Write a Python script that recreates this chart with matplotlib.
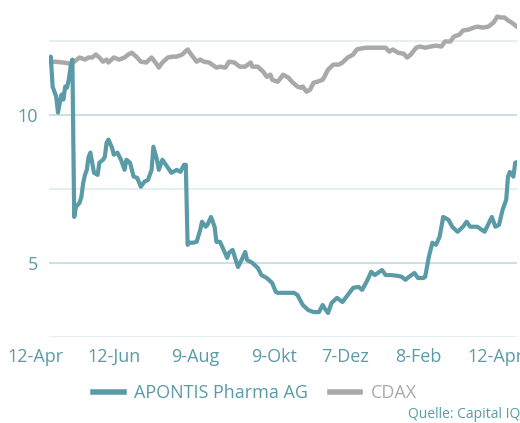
import matplotlib
matplotlib.use("Agg")
import matplotlib.pyplot as plt
import matplotlib.transforms as mtransforms

# trading-day index (0 = 12-Apr) and closing values
apontis_day = [0, 1, 2, 4, 5, 6, 7, 8, 9, 10, 11, 12, 13, 14, 15, 17, 18, 19, 20, 21,
               22, 23, 24, 25, 27, 28, 30, 31, 32, 33, 35, 36, 38, 40, 42, 43, 45, 46, 47, 49,
               51, 53, 55, 57, 58, 60, 61, 63, 68, 71, 73, 75, 76, 77, 78, 80, 82, 84, 85, 87,
               88, 90, 92, 93, 95, 97, 99, 100, 102, 105, 107, 109, 110, 113, 116, 118, 121, 124, 126, 127,
               128, 132, 136, 138, 141, 144, 147, 150, 152, 153, 155, 157, 160, 163, 166, 169, 172, 174, 177, 179,
               181, 185, 187, 190, 194, 196, 198, 200, 203, 205, 208, 209, 211, 213, 215, 217, 219, 222, 224, 227,
               230, 232, 234, 238, 242, 246, 248, 250, 252, 254, 255, 256, 258, 259, 260]
apontis_val = [11.86, 11.96, 10.95, 10.61, 10.07, 10.41, 10.68, 10.51, 10.95, 10.91, 11.18, 11.62, 11.86, 6.55, 6.89, 7.03, 7.23, 7.70, 7.97, 8.14,
               8.58, 8.72, 8.38, 8.04, 7.97, 8.38, 8.48, 8.58, 9.05, 9.16, 8.89, 8.65, 8.72, 8.48, 8.14, 8.48, 8.38, 8.14, 7.91, 7.87,
               7.57, 7.74, 7.80, 8.14, 8.92, 8.48, 8.14, 8.48, 8.04, 8.14, 8.07, 8.31, 8.31, 5.61, 5.68, 5.68, 5.71, 6.11, 6.39, 6.22,
               6.28, 6.55, 6.22, 5.71, 5.71, 5.44, 5.17, 5.34, 5.44, 4.86, 5.10, 5.37, 5.10, 5.00, 4.83, 4.59, 4.49, 4.32, 4.02, 3.99,
               3.99, 3.99, 3.99, 3.92, 3.58, 3.41, 3.34, 3.34, 3.58, 3.48, 3.31, 3.65, 3.82, 3.68, 3.92, 4.16, 4.19, 4.09, 4.43, 4.70,
               4.59, 4.76, 4.59, 4.59, 4.56, 4.53, 4.43, 4.53, 4.66, 4.49, 4.49, 4.53, 5.20, 5.68, 5.61, 5.88, 6.55, 6.45, 6.22, 6.05,
               6.22, 6.39, 6.22, 6.22, 6.05, 6.55, 6.22, 6.28, 6.79, 7.13, 7.91, 8.07, 7.91, 8.38, 8.40]

cdax_day = [0, 3, 8, 12, 14, 17, 20, 22, 24, 26, 28, 30, 32, 33, 36, 39, 42, 44, 46, 49,
            51, 54, 57, 60, 61, 63, 66, 69, 71, 74, 77, 79, 82, 84, 86, 89, 93, 95, 98, 100,
            103, 106, 109, 112, 113, 116, 119, 121, 123, 124, 127, 128, 130, 133, 135, 138, 140, 141, 143, 145,
            147, 149, 152, 153, 155, 158, 161, 163, 166, 169, 171, 173, 176, 179, 181, 184, 187, 189, 191, 194,
            197, 199, 201, 204, 206, 209, 212, 215, 218, 220, 223, 225, 228, 230, 233, 236, 238, 241, 244, 247,
            249, 251, 253, 255, 257, 260]
cdax_val = [11.76, 11.79, 11.76, 11.72, 11.79, 11.93, 11.86, 11.93, 11.93, 12.03, 11.93, 11.79, 11.86, 11.76, 11.93, 11.86, 11.93, 12.03, 12.09, 11.93,
            11.79, 11.76, 11.93, 11.69, 11.59, 11.76, 11.93, 11.96, 11.96, 12.03, 12.20, 12.03, 11.79, 11.86, 11.79, 11.76, 11.59, 11.62, 11.59, 11.79,
            11.76, 11.62, 11.62, 11.76, 11.62, 11.62, 11.45, 11.28, 11.35, 11.18, 11.11, 11.18, 11.35, 11.25, 11.11, 10.95, 10.91, 10.95, 10.78, 10.84,
            11.08, 11.11, 11.18, 11.28, 11.52, 11.69, 11.69, 11.76, 11.93, 12.03, 12.20, 12.23, 12.26, 12.26, 12.26, 12.26, 12.26, 12.13, 12.20, 12.09,
            12.06, 11.93, 12.03, 12.26, 12.30, 12.26, 12.30, 12.33, 12.30, 12.47, 12.47, 12.64, 12.70, 12.84, 12.87, 12.94, 12.97, 12.94, 12.97, 13.11,
            13.31, 13.28, 13.28, 13.18, 13.11, 12.97]

tick_days = [0, 44, 89, 133, 172, 213, 256]
tick_labels = ['12-Apr', '12-Jun', '9-Aug', '9-Okt', '7-Dez', '8-Feb', '12-Apr']
y_ticks = [2.5, 5, 7.5, 10, 12.5]
y_labels = ['', '5', '', '10', '']

teal = '#5a9ba7'
grey = '#a9a9a9'
plt.rcParams['font.family'] = ['Open Sans', 'DejaVu Sans']

fig = plt.figure(figsize=(5.2, 4.23), dpi=100)
ax = fig.add_axes([49 / 520, 1 - 337 / 423, 468 / 520, 329 / 423])

ax.plot(cdax_day, cdax_val, color=grey, lw=3.2, label='CDAX', solid_joinstyle='round', zorder=3)
ax.plot(apontis_day, apontis_val, color=teal, lw=3.0, label='APONTIS Pharma AG', solid_joinstyle='round', zorder=4)

ax.set_xlim(0, 260)
ax.set_ylim(2.5, 13.6)
ax.set_yticks(y_ticks)
ax.set_yticklabels(y_labels)
ax.set_xticks(tick_days)
ax.set_xticklabels(tick_labels)
ax.tick_params(axis='both', length=0, labelsize=13, labelcolor=teal)
ax.tick_params(axis='y', pad=8)
ax.tick_params(axis='x', pad=8)

# labels sit a bit left of their dates in the original
shift = mtransforms.ScaledTranslation(-14 / 100, 0, fig.dpi_scale_trans)
for lbl in ax.get_xticklabels():
    lbl.set_transform(lbl.get_transform() + shift)

ax.grid(axis='y', lw=1.3)
for val, gl in zip(y_ticks, ax.yaxis.get_gridlines()):
    gl.set_color('#c4dde2' if val in (5, 10) else '#e3eef0')
ax.set_axisbelow(True)
for s in ax.spines.values():
    s.set_visible(False)

handles, labels = ax.get_legend_handles_labels()
leg = fig.legend(handles[::-1], labels[::-1], loc='center', bbox_to_anchor=(255 / 520, 1 - 393 / 423),
                 ncol=2, frameon=False, fontsize=13, labelcolor='linecolor',
                 handlelength=1.7, handletextpad=0.55, columnspacing=1.2)
for line in leg.get_lines():
    line.set_linewidth(4)

fig.text(408 / 520, 1 - 414 / 423, 'Quelle: Capital IQ', color=teal, fontsize=10, ha='left', va='center')

fig.savefig('out.png', dpi=100)
